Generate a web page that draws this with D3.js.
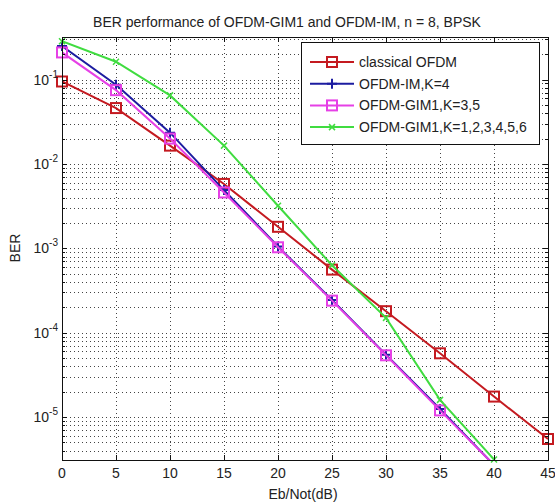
<!DOCTYPE html>
<html>
<head>
<meta charset="utf-8">
<script src="https://cdn.jsdelivr.net/npm/d3@7"></script>
<style>
  body { margin: 0; background: #fff; }
  text { font-family: "Liberation Sans", Arial, sans-serif; fill: #222; }
</style>
</head>
<body>
<div id="chart"></div>
<script>
// Eb/N0 points (dB)
const snr = [0, 5, 10, 15, 20, 25, 30, 35, 40, 45];

// BER per scheme
const berClassical = [0.095, 0.046, 0.0165, 0.0058, 0.0018, 5.6e-4, 1.8e-4, 5.7e-5, 1.75e-5, 5.5e-6];
const berIm = [0.25, 0.087, 0.0235, 0.0049, 1.05e-3, 2.45e-4, 5.5e-5, 1.25e-5, 2.7e-6];
const berGim35 = [0.21, 0.075, 0.020, 0.0046, 1.03e-3, 2.4e-4, 5.4e-5, 1.2e-5, 2.7e-6];
const berGimAll = [0.285, 0.163, 0.065, 0.0165, 0.0032, 6.3e-4, 1.5e-4, 1.6e-5, 3.15e-6];

const seriesNames = ["classical OFDM", "OFDM-IM,K=4", "OFDM-GIM1,K=3,5", "OFDM-GIM1,K=1,2,3,4,5,6"];
const xTicks = [0, 5, 10, 15, 20, 25, 30, 35, 40, 45];
const yMajor = [-1, -2, -3, -4, -5];   // exponents labelled 10^k
const yDomain = [3.1e-6, 0.32];

const series = [
    { name: seriesNames[0], values: berClassical, color: "#c41a20", marker: "square" },
    { name: seriesNames[1], values: berIm, color: "#1c1ca0", marker: "plus" },
    { name: seriesNames[2], values: berGim35, color: "#e640e6", marker: "square" },
    { name: seriesNames[3], values: berGimAll, color: "#40dc40", marker: "cross" }
];

const W = 555, H = 504;
const margin = { top: 37, right: 7, bottom: 44, left: 62 };
const width = W - margin.left - margin.right;
const height = H - margin.top - margin.bottom;

const svg = d3.select("#chart").append("svg")
    .attr("width", W)
    .attr("height", H);

const g = svg.append("g")
    .attr("transform", `translate(${margin.left},${margin.top})`);

const x = d3.scaleLinear().domain([0, 45]).range([0, width]);
const y = d3.scaleLog().domain(yDomain).range([height, 0]);

// minor log values inside the domain
const minorVals = [];
for (let e = -6; e <= 0; e++) {
    for (let m = 1; m <= 9; m++) {
        const v = m * Math.pow(10, e);
        if (v >= yDomain[0] && v <= yDomain[1]) minorVals.push(v);
    }
}

// grid
const grid = g.append("g").attr("stroke", "#444").attr("stroke-width", 1)
    .attr("stroke-dasharray", "1,3").attr("fill", "none");
grid.selectAll(".hg").data(minorVals).enter().append("line")
    .attr("x1", 0).attr("x2", width)
    .attr("y1", d => Math.round(y(d)) + 0.5).attr("y2", d => Math.round(y(d)) + 0.5);
grid.selectAll(".vg").data(xTicks.slice(1, -1)).enter().append("line")
    .attr("x1", d => Math.round(x(d)) + 0.5).attr("x2", d => Math.round(x(d)) + 0.5)
    .attr("y1", 0).attr("y2", height);

// clip for lines
svg.append("defs").append("clipPath").attr("id", "plotclip")
    .append("rect").attr("width", width).attr("height", height);

const line = d3.line().x((d, i) => x(snr[i])).y(d => y(d));

const plot = g.append("g").attr("clip-path", "url(#plotclip)");
const marks = g.append("g");

function drawMarker(sel, type, color) {
    if (type === "square") {
        sel.append("rect").attr("x", -5).attr("y", -5).attr("width", 10).attr("height", 10)
            .attr("fill", "none").attr("stroke", color).attr("stroke-width", 2);
    } else if (type === "plus") {
        sel.append("path").attr("d", "M-5,0H5M0,-5V5")
            .attr("stroke", color).attr("stroke-width", 2);
    } else {
        sel.append("path").attr("d", "M-3,-3L3,3M-3,3L3,-3")
            .attr("stroke", color).attr("stroke-width", 1.5);
    }
}

series.forEach(s => {
    const layer = g.append("g");
    layer.append("path")
        .attr("clip-path", "url(#plotclip)")
        .attr("d", line(s.values))
        .attr("fill", "none")
        .attr("stroke", s.color)
        .attr("stroke-width", 2);
    s.values.forEach((v, i) => {
        if (v < yDomain[0] || v > yDomain[1]) return;
        const m = layer.append("g").attr("transform", `translate(${x(snr[i])},${y(v)})`);
        drawMarker(m, s.marker, s.color);
    });
});

// axes box
g.append("rect").attr("x", 0.5).attr("y", 0.5).attr("width", width).attr("height", height)
    .attr("fill", "none").attr("stroke", "#111").attr("stroke-width", 1);

// ticks (inward)
const ticks = g.append("g").attr("stroke", "#111").attr("stroke-width", 1);
xTicks.forEach(t => {
    const px = Math.round(x(t)) + 0.5;
    ticks.append("line").attr("x1", px).attr("x2", px).attr("y1", height).attr("y2", height - 5);
    ticks.append("line").attr("x1", px).attr("x2", px).attr("y1", 0).attr("y2", 5);
});
minorVals.forEach(v => {
    const py = Math.round(y(v)) + 0.5;
    const major = Math.abs(Math.log10(v) - Math.round(Math.log10(v))) < 1e-9;
    const len = major ? 5 : 3;
    ticks.append("line").attr("x1", 0).attr("x2", len).attr("y1", py).attr("y2", py);
    ticks.append("line").attr("x1", width - len).attr("x2", width).attr("y1", py).attr("y2", py);
});

// x tick labels
g.selectAll(".xl").data(xTicks).enter().append("text")
    .attr("x", d => x(d)).attr("y", height + 18)
    .attr("text-anchor", "middle").attr("font-size", 14)
    .text(d => d);

// y tick labels
const yl = g.selectAll(".yl").data(yMajor).enter().append("text")
    .attr("x", -4).attr("y", d => y(Math.pow(10, d)) + 5)
    .attr("text-anchor", "end").attr("font-size", 14);
yl.append("tspan").text("10");
yl.append("tspan").attr("dy", -7).attr("font-size", 10).text(d => d);

// axis titles
svg.append("text").attr("x", 303).attr("y", 499).attr("text-anchor", "middle")
    .attr("font-size", 14).text("Eb/Not(dB)");
svg.append("text").attr("transform", "translate(20,248) rotate(-90)")
    .attr("text-anchor", "middle").attr("font-size", 14).text("BER");
svg.append("text").attr("x", 287).attr("y", 27).attr("text-anchor", "middle")
    .attr("font-size", 14).text("BER performance of OFDM-GIM1 and OFDM-IM, n = 8, BPSK");

// legend
const lg = svg.append("g").attr("transform", "translate(301,42)");
lg.append("rect").attr("x", 0.5).attr("y", 0.5).attr("width", 238).attr("height", 102)
    .attr("fill", "#fff").attr("stroke", "#111");
series.forEach((s, i) => {
    const row = lg.append("g").attr("transform", `translate(0,${20 + i * 21.7})`);
    row.append("line").attr("x1", 9).attr("x2", 53).attr("stroke", s.color).attr("stroke-width", 2);
    drawMarker(row.append("g").attr("transform", "translate(31,0)"), s.marker, s.color);
    row.append("text").attr("x", 58).attr("y", 5).attr("font-size", 14).text(s.name);
});
</script>
</body>
</html>
